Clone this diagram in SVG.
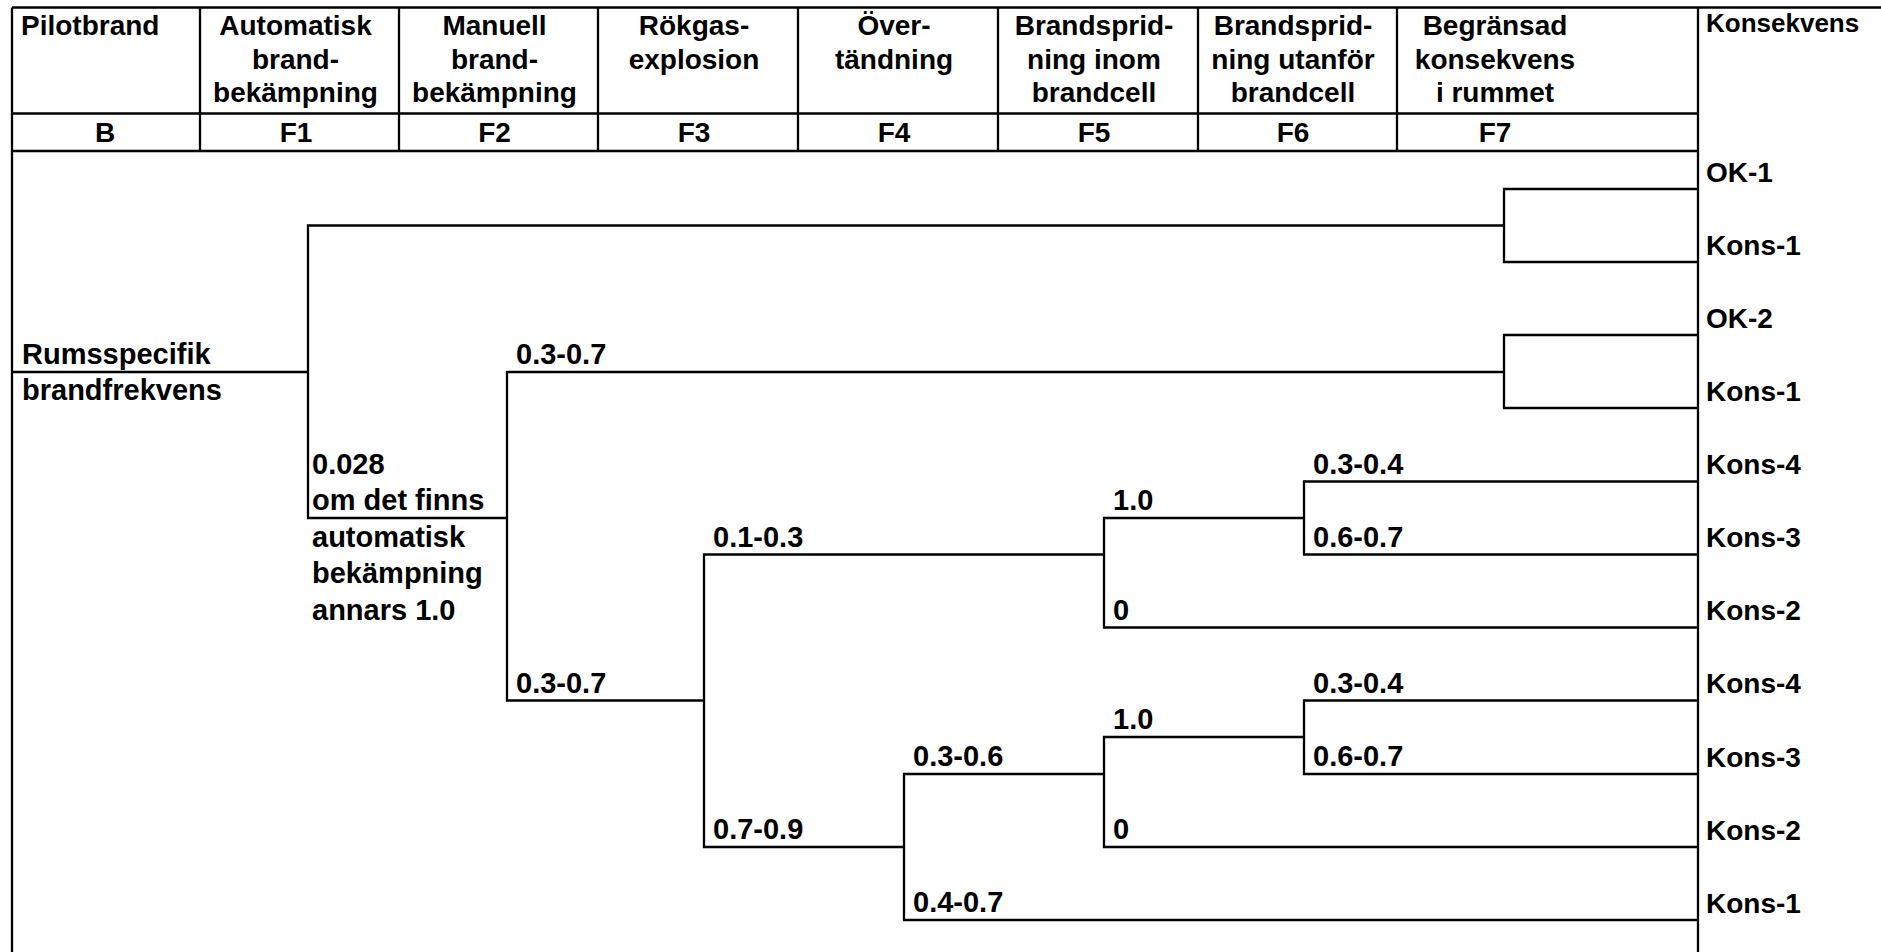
<svg xmlns="http://www.w3.org/2000/svg" width="1881" height="952" viewBox="0 0 1881 952">
  <style>
    text { font-family: "Liberation Sans", Arial, sans-serif; font-weight: bold; fill: #000; }
    .h { font-size: 28px; text-anchor: middle; }
    .hl { font-size: 28px; }
    .k { font-size: 26px; }
    .t { font-size: 29px; }
    .o { font-size: 28px; }
    .rule { stroke: #000; stroke-width: 2.3; fill: none; }
    .edge { stroke: #000; stroke-width: 2.3; fill: none; }
  </style>
  <rect width="1881" height="952" fill="#fff"/>

  <!-- table frame and header grid -->
  <g id="table">
    <path class="rule" d="M12 7.5 H1881 M12 7.5 V952 M1698 7.5 V952 M12 113.5 H1698 M12 151 H1698"/>
    <path class="rule" d="M200 7.5 V151 M399 7.5 V151 M598 7.5 V151 M798 7.5 V151 M998 7.5 V151 M1198 7.5 V151 M1397 7.5 V151"/>
  </g>

  <!-- column headings -->
  <g id="headers">
    <text class="hl" x="21" y="35">Pilotbrand</text>
    <text class="h" x="295.5" y="35">Automatisk</text>
    <text class="h" x="295.5" y="68.5">brand-</text>
    <text class="h" x="295.5" y="102">bekämpning</text>
    <text class="h" x="494.5" y="35">Manuell</text>
    <text class="h" x="494.5" y="68.5">brand-</text>
    <text class="h" x="494.5" y="102">bekämpning</text>
    <text class="h" x="694" y="35">Rökgas-</text>
    <text class="h" x="694" y="68.5">explosion</text>
    <text class="h" x="894" y="35">Över-</text>
    <text class="h" x="894" y="68.5">tändning</text>
    <text class="h" x="1094" y="35">Brandsprid-</text>
    <text class="h" x="1094" y="68.5">ning inom</text>
    <text class="h" x="1094" y="102">brandcell</text>
    <text class="h" x="1293" y="35">Brandsprid-</text>
    <text class="h" x="1293" y="68.5">ning utanför</text>
    <text class="h" x="1293" y="102">brandcell</text>
    <text class="h" x="1495" y="35">Begränsad</text>
    <text class="h" x="1495" y="68.5">konsekvens</text>
    <text class="h" x="1495" y="102">i rummet</text>
    <text class="k" x="1706" y="32">Konsekvens</text>
    <text class="h" x="105" y="142">B</text>
    <text class="h" x="296" y="142">F1</text>
    <text class="h" x="494.5" y="142">F2</text>
    <text class="h" x="694" y="142">F3</text>
    <text class="h" x="894" y="142">F4</text>
    <text class="h" x="1094" y="142">F5</text>
    <text class="h" x="1293" y="142">F6</text>
    <text class="h" x="1495" y="142">F7</text>
  </g>

  <!-- event tree branches -->
  <g id="connectors">
    <path class="edge" d="M12 372 H308"/>
    <path class="edge" d="M1504 225.5 H308 V518 H507"/>
    <path class="edge" d="M1698 189 H1504 V262 H1698"/>
    <path class="edge" d="M1504 372 H507 V700.5 H704"/>
    <path class="edge" d="M1698 335 H1504 V408 H1698"/>
    <path class="edge" d="M1104 554.5 H704 V847 H904"/>
    <path class="edge" d="M1304 518 H1104 V627.5 H1698"/>
    <path class="edge" d="M1698 481.5 H1304 V554.5 H1698"/>
    <path class="edge" d="M1104 774 H904 V920 H1698"/>
    <path class="edge" d="M1304 737 H1104 V847 H1698"/>
    <path class="edge" d="M1698 700.5 H1304 V774 H1698"/>
  </g>

  <g id="start">
    <text class="t" x="22" y="364">Rumsspecifik</text>
    <text class="t" x="22" y="400">brandfrekvens</text>
  </g>

  <g id="f1-labels">
    <text class="t" x="312" y="473.5">0.028</text>
    <text class="t" x="312" y="510">om det finns</text>
    <text class="t" x="312" y="546.5">automatisk</text>
    <text class="t" x="312" y="583">bekämpning</text>
    <text class="t" x="312" y="619.5">annars 1.0</text>
  </g>

  <g id="f2-labels">
    <text class="t" x="516" y="364">0.3-0.7</text>
    <text class="t" x="516" y="692.5">0.3-0.7</text>
  </g>

  <g id="f3-labels">
    <text class="t" x="713" y="546.5">0.1-0.3</text>
    <text class="t" x="713" y="839">0.7-0.9</text>
  </g>

  <g id="f4-labels">
    <text class="t" x="913" y="766">0.3-0.6</text>
    <text class="t" x="913" y="912">0.4-0.7</text>
  </g>

  <g id="f5-labels">
    <text class="t" x="1113" y="510">1.0</text>
    <text class="t" x="1113" y="619.5">0</text>
    <text class="t" x="1113" y="729">1.0</text>
    <text class="t" x="1113" y="839">0</text>
  </g>

  <g id="f6-labels">
    <text class="t" x="1313" y="473.5">0.3-0.4</text>
    <text class="t" x="1313" y="546.5">0.6-0.7</text>
    <text class="t" x="1313" y="692.5">0.3-0.4</text>
    <text class="t" x="1313" y="766">0.6-0.7</text>
  </g>

  <g id="outcomes">
    <text class="o" x="1706" y="181.5">OK-1</text>
    <text class="o" x="1706" y="254.5">Kons-1</text>
    <text class="o" x="1706" y="327.5">OK-2</text>
    <text class="o" x="1706" y="400.5">Kons-1</text>
    <text class="o" x="1706" y="474">Kons-4</text>
    <text class="o" x="1706" y="547">Kons-3</text>
    <text class="o" x="1706" y="620">Kons-2</text>
    <text class="o" x="1706" y="693">Kons-4</text>
    <text class="o" x="1706" y="766.5">Kons-3</text>
    <text class="o" x="1706" y="839.5">Kons-2</text>
    <text class="o" x="1706" y="912.5">Kons-1</text>
  </g>
</svg>
